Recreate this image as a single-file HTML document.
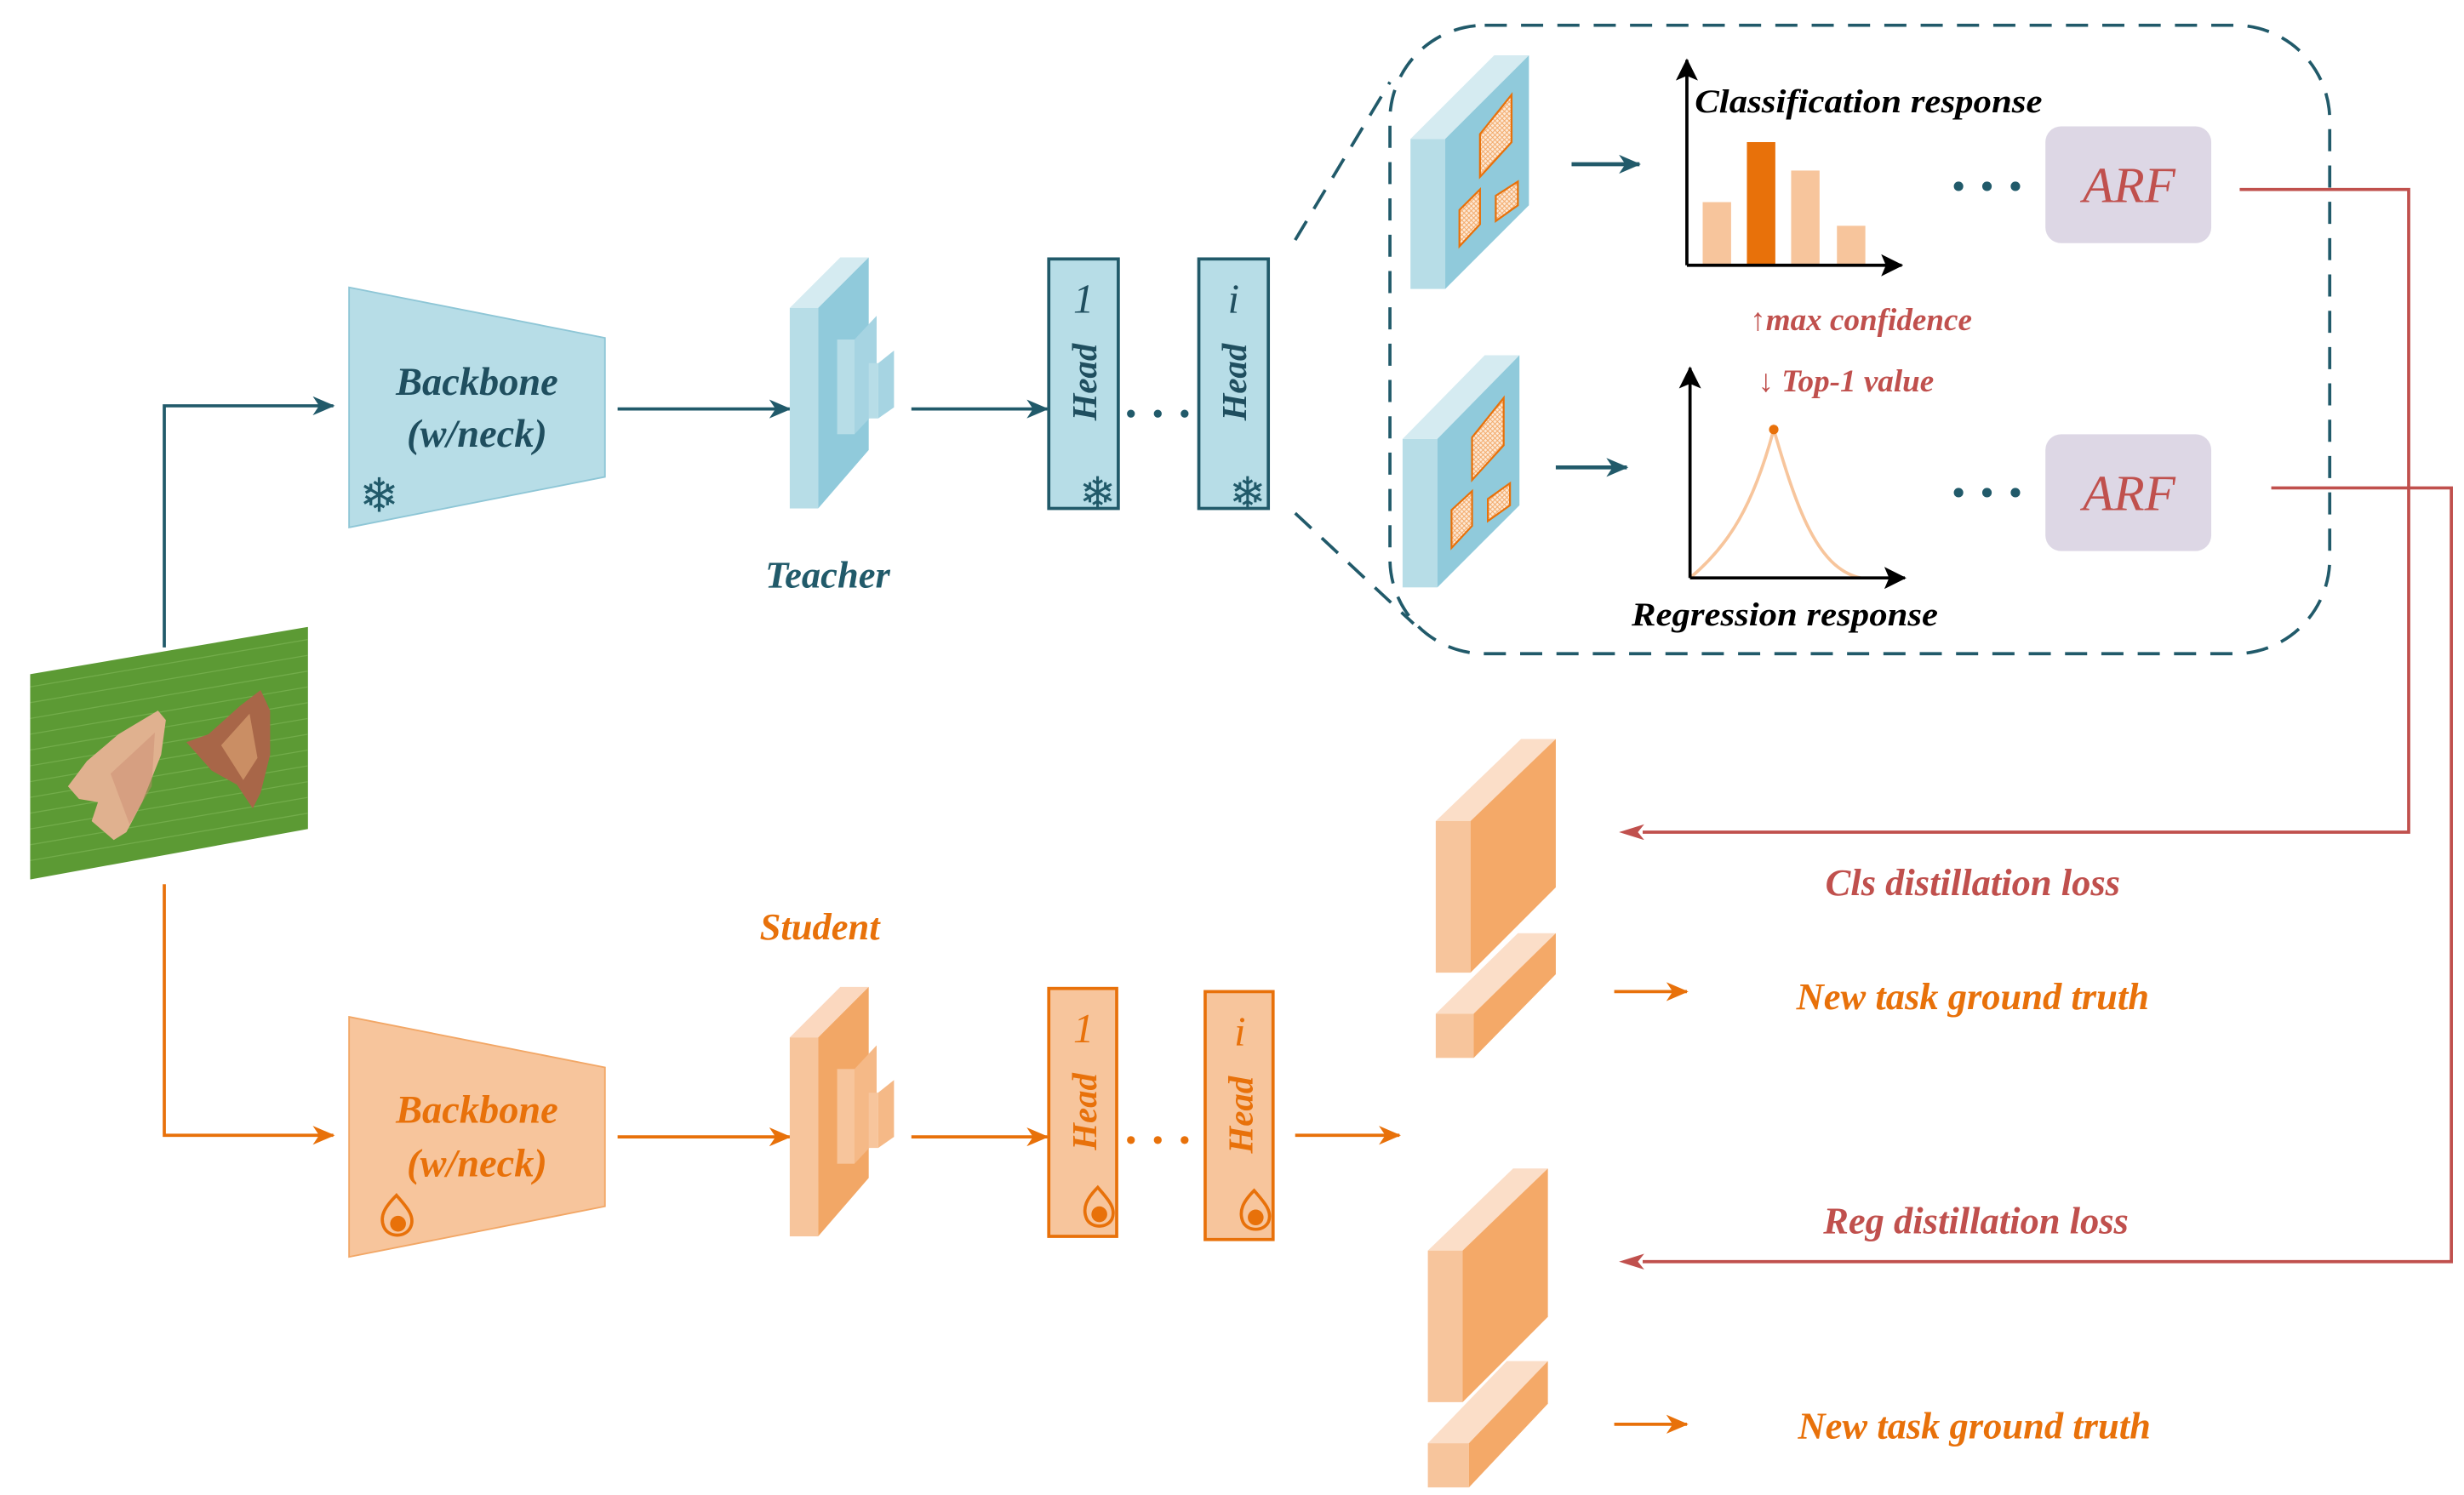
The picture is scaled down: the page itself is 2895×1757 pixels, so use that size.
<!DOCTYPE html>
<html><head><meta charset="utf-8"><style>
html,body{margin:0;padding:0;background:#fff;width:2895px;height:1757px;overflow:hidden}
svg{display:block}
text{font-family:"Liberation Serif",serif;font-style:italic;font-weight:bold}
text.n{font-weight:normal}
text.s{font-style:normal;font-weight:normal;font-family:"DejaVu Sans",sans-serif}
</style></head><body>
<svg width="2895" height="1757" viewBox="0 0 1560 946.8" xmlns="http://www.w3.org/2000/svg">
<defs>
<marker id="at" markerWidth="14" markerHeight="12" refX="13" refY="6" orient="auto" markerUnits="userSpaceOnUse"><path d="M0,0 L14,6 L0,12 L4,6 Z" fill="#215a6a"/></marker>
<marker id="ao" markerWidth="14" markerHeight="12" refX="13" refY="6" orient="auto" markerUnits="userSpaceOnUse"><path d="M0,0 L14,6 L0,12 L4,6 Z" fill="#e8710a"/></marker>
<marker id="ar" markerWidth="16" markerHeight="10" refX="1" refY="5" orient="auto-start-reverse" markerUnits="userSpaceOnUse"><path d="M0,0 L16,5 L0,10 L4,5 Z" fill="#c0504d"/></marker>
<marker id="ak" markerWidth="14" markerHeight="14" refX="13" refY="7" orient="auto" markerUnits="userSpaceOnUse"><path d="M0,0 L14,7 L0,14 L3,7 Z" fill="#000"/></marker>
<pattern id="hatch" width="3" height="3" patternUnits="userSpaceOnUse"><rect width="3" height="3" fill="#fde9d6"/><path d="M0,0 L3,3 M3,0 L0,3" stroke="#f2a766" stroke-width="0.5"/></pattern>
<clipPath id="imgclip"><polygon points="19,427 195,397 195,525 19,557"/></clipPath>
</defs>

<!-- image -->
<g clip-path="url(#imgclip)">
<rect x="19" y="390" width="180" height="175" fill="#5c9a34"/>
<g stroke="#7cb454" stroke-width="0.7" opacity="0.7">
<path d="M19,435 L195,405 M19,445 L195,415 M19,455 L195,425 M19,465 L195,435 M19,475 L195,445 M19,485 L195,455 M19,495 L195,465 M19,505 L195,475 M19,515 L195,485 M19,525 L195,495 M19,535 L195,505 M19,545 L195,515"/>
</g>
<polygon points="105,456 100,450 75,465 55,482 43,498 50,506 62,508 58,520 72,532 80,527 90,508 102,478" fill="#e0b18f"/>
<polygon points="70,490 98,464 96,498 82,522" fill="#c98a70" opacity="0.45"/>
<polygon points="118,470 132,465 152,447 165,437 171,450 171,478 165,502 160,512 150,497 134,488" fill="#a86648"/>
<polygon points="140,472 158,452 163,480 154,494" fill="#d8a070" opacity="0.7"/>
</g>

<!-- teacher path -->
<path d="M104,410 V257 H211" fill="none" stroke="#215a6a" stroke-width="2" marker-end="url(#at)"/>
<polygon points="221,182 383,214 383,302 221,334" fill="#b7dde7" stroke="#8ec6d6" stroke-width="1"/>
<text x="302" y="250" font-size="25" fill="#1f4e5f" text-anchor="middle">Backbone</text>
<text x="302" y="283" font-size="25" fill="#1f4e5f" text-anchor="middle">(w/neck)</text>
<text class="s" x="240" y="324" font-size="30" fill="#215a6a" text-anchor="middle">❄</text>
<line x1="391" y1="259" x2="500" y2="259" stroke="#215a6a" stroke-width="2" marker-end="url(#at)"/>
<!-- teacher neck -->
<polygon points="500,195 518,195 550,163 532,163" fill="#d5ebf1"/>
<rect x="500" y="195" width="18" height="127" fill="#b7dde7"/>
<polygon points="518,195 550,163 550,285 518,322" fill="#90cadb"/>
<rect x="530" y="215" width="11" height="60" fill="#b7dde7"/>
<polygon points="541,215 555,200 555,260 541,275" fill="#a6d4e2"/>
<rect x="550" y="230" width="6" height="35" fill="#b7dde7"/>
<polygon points="556,230 566,222 566,258 556,265" fill="#a6d4e2"/>
<line x1="577" y1="259" x2="663" y2="259" stroke="#215a6a" stroke-width="2" marker-end="url(#at)"/>
<!-- teacher heads -->
<rect x="664" y="164" width="44" height="158" fill="#b7dde7" stroke="#215a6a" stroke-width="2"/>
<text class="n" x="686" y="198" font-size="26" fill="#1f4e5f" text-anchor="middle">1</text>
<text transform="translate(694,242) rotate(-90)" font-size="22" fill="#1f4e5f" text-anchor="middle">Head</text>
<text class="s" x="695" y="322" font-size="28" fill="#215a6a" text-anchor="middle">❄</text>
<circle cx="716" cy="262" r="2.5" fill="#215a6a"/><circle cx="733" cy="262" r="2.5" fill="#215a6a"/><circle cx="750" cy="262" r="2.5" fill="#215a6a"/>
<rect x="759" y="164" width="44" height="158" fill="#b7dde7" stroke="#215a6a" stroke-width="2"/>
<text class="n" x="781" y="198" font-size="26" fill="#1f4e5f" text-anchor="middle">i</text>
<text transform="translate(789,242) rotate(-90)" font-size="22" fill="#1f4e5f" text-anchor="middle">Head</text>
<text class="s" x="790" y="322" font-size="28" fill="#215a6a" text-anchor="middle">❄</text>
<text x="524" y="372" font-size="24" fill="#215a6a" text-anchor="middle">Teacher</text>

<!-- dashed zoom box -->
<rect x="880" y="16" width="595" height="398" rx="60" fill="none" stroke="#215a6a" stroke-width="2" stroke-dasharray="14,9"/>
<line x1="820" y1="152" x2="880" y2="52" stroke="#215a6a" stroke-width="2" stroke-dasharray="14,9"/>
<line x1="820" y1="325" x2="895" y2="395" stroke="#215a6a" stroke-width="2" stroke-dasharray="14,9"/>

<!-- feature map 1 -->
<polygon points="893,88 915,88 968,35 946,35" fill="#d5ebf1"/>
<rect x="893" y="88" width="22" height="95" fill="#b7dde7"/>
<polygon points="915,88 968,35 968,130 915,183" fill="#90cadb"/>
<polygon points="937,85 957,60 957,90 937,112" fill="url(#hatch)" stroke="#e8710a" stroke-width="1.2"/>
<polygon points="924,133 937,120 937,142 924,156" fill="url(#hatch)" stroke="#e8710a" stroke-width="1.2"/>
<polygon points="947,124 961,115 961,130 947,140" fill="url(#hatch)" stroke="#e8710a" stroke-width="1.2"/>
<line x1="995" y1="104" x2="1038" y2="104" stroke="#215a6a" stroke-width="2.5" marker-end="url(#at)"/>
<!-- bar chart -->
<rect x="1078" y="128" width="18" height="40" fill="#f7c59c"/>
<rect x="1106" y="90" width="18" height="78" fill="#e8710a"/>
<rect x="1134" y="108" width="18" height="60" fill="#f7c59c"/>
<rect x="1163" y="143" width="18" height="25" fill="#f7c59c"/>
<line x1="1068" y1="168" x2="1068" y2="38" stroke="#000" stroke-width="2" marker-end="url(#ak)"/>
<line x1="1068" y1="168" x2="1204" y2="168" stroke="#000" stroke-width="2" marker-end="url(#ak)"/>
<text x="1073" y="71" font-size="21" fill="#000" textLength="220" lengthAdjust="spacingAndGlyphs">Classification response</text>
<circle cx="1240" cy="118" r="3" fill="#215a6a"/><circle cx="1258" cy="118" r="3" fill="#215a6a"/><circle cx="1276" cy="118" r="3" fill="#215a6a"/>
<rect x="1295" y="80" width="105" height="74" rx="10" fill="#ddd7e5"/>
<text class="n" x="1348" y="128" font-size="32" fill="#c0504d" text-anchor="middle">ARF</text>
<text x="1108" y="209" font-size="20" fill="#c0504d">↑max confidence</text>
<text x="1113" y="248" font-size="20" fill="#c0504d">↓ Top-1 value</text>

<!-- feature map 2 -->
<polygon points="888,278 910,278 962,225 940,225" fill="#d5ebf1"/>
<rect x="888" y="278" width="22" height="94" fill="#b7dde7"/>
<polygon points="910,278 962,225 962,320 910,372" fill="#90cadb"/>
<polygon points="932,277 952,252 952,282 932,304" fill="url(#hatch)" stroke="#e8710a" stroke-width="1.2"/>
<polygon points="919,323 932,311 932,333 919,347" fill="url(#hatch)" stroke="#e8710a" stroke-width="1.2"/>
<polygon points="942,316 956,306 956,320 942,330" fill="url(#hatch)" stroke="#e8710a" stroke-width="1.2"/>
<line x1="985" y1="296" x2="1030" y2="296" stroke="#215a6a" stroke-width="2.5" marker-end="url(#at)"/>
<path d="M1070,366 C1095,345 1110,320 1123,272 C1137,320 1150,360 1178,366" fill="none" stroke="#f7c59c" stroke-width="2"/>
<circle cx="1123" cy="272" r="3" fill="#e8710a"/>
<line x1="1070" y1="366" x2="1070" y2="233" stroke="#000" stroke-width="2" marker-end="url(#ak)"/>
<line x1="1070" y1="366" x2="1206" y2="366" stroke="#000" stroke-width="2" marker-end="url(#ak)"/>
<text x="1130" y="396" font-size="21" fill="#000" text-anchor="middle" textLength="194" lengthAdjust="spacingAndGlyphs">Regression response</text>
<circle cx="1240" cy="312" r="3" fill="#215a6a"/><circle cx="1258" cy="312" r="3" fill="#215a6a"/><circle cx="1276" cy="312" r="3" fill="#215a6a"/>
<rect x="1295" y="275" width="105" height="74" rx="10" fill="#ddd7e5"/>
<text class="n" x="1348" y="323" font-size="32" fill="#c0504d" text-anchor="middle">ARF</text>

<!-- red connectors -->
<path d="M1418,120 H1525 V527 H1040" fill="none" stroke="#c0504d" stroke-width="2" marker-end="url(#ar)"/>
<path d="M1438,309 H1552 V799 H1040" fill="none" stroke="#c0504d" stroke-width="2" marker-end="url(#ar)"/>

<!-- student path -->
<path d="M104,560 V719 H211" fill="none" stroke="#e8710a" stroke-width="2" marker-end="url(#ao)"/>
<polygon points="221,644 383,676 383,764 221,796" fill="#f7c59c" stroke="#f2a766" stroke-width="1"/>
<text x="302" y="711" font-size="25" fill="#e8710a" text-anchor="middle">Backbone</text>
<text x="302" y="745" font-size="25" fill="#e8710a" text-anchor="middle">(w/neck)</text>
<path d="M251,757 C244,764 240,770 243,777 C246,784 257,784 260,777 C263,770 257,764 251,757 Z" fill="#f7c59c" stroke="#e8710a" stroke-width="2"/>
<circle cx="252" cy="775" r="5" fill="#e8710a"/>
<line x1="391" y1="720" x2="500" y2="720" stroke="#e8710a" stroke-width="2" marker-end="url(#ao)"/>
<polygon points="500,657 518,657 550,625 532,625" fill="#fbd8bf"/>
<rect x="500" y="657" width="18" height="126" fill="#f7c59c"/>
<polygon points="518,657 550,625 550,746 518,783" fill="#f2a766"/>
<rect x="530" y="677" width="11" height="60" fill="#f7c59c"/>
<polygon points="541,677 555,662 555,722 541,737" fill="#f5b987"/>
<rect x="550" y="692" width="6" height="35" fill="#f7c59c"/>
<polygon points="556,692 566,684 566,720 556,727" fill="#f5b987"/>
<line x1="577" y1="720" x2="663" y2="720" stroke="#e8710a" stroke-width="2" marker-end="url(#ao)"/>
<rect x="664" y="626" width="43" height="157" fill="#f7c59c" stroke="#e8710a" stroke-width="2"/>
<text class="n" x="686" y="660" font-size="26" fill="#e8710a" text-anchor="middle">1</text>
<text transform="translate(694,704) rotate(-90)" font-size="22" fill="#e8710a" text-anchor="middle">Head</text>
<path d="M695,752 C688,759 685,765 688,772 C691,778 701,778 704,772 C707,765 701,759 695,752 Z" fill="#f7c59c" stroke="#e8710a" stroke-width="2"/><circle cx="696" cy="769" r="5" fill="#e8710a"/>
<circle cx="716" cy="722" r="2.5" fill="#e8710a"/><circle cx="733" cy="722" r="2.5" fill="#e8710a"/><circle cx="750" cy="722" r="2.5" fill="#e8710a"/>
<rect x="763" y="628" width="43" height="157" fill="#f7c59c" stroke="#e8710a" stroke-width="2"/>
<text class="n" x="785" y="662" font-size="26" fill="#e8710a" text-anchor="middle">i</text>
<text transform="translate(793,706) rotate(-90)" font-size="22" fill="#e8710a" text-anchor="middle">Head</text>
<path d="M794,754 C787,761 784,767 787,774 C790,780 800,780 803,774 C806,767 800,761 794,754 Z" fill="#f7c59c" stroke="#e8710a" stroke-width="2"/><circle cx="795" cy="771" r="5" fill="#e8710a"/>
<line x1="820" y1="719" x2="886" y2="719" stroke="#e8710a" stroke-width="2" marker-end="url(#ao)"/>
<text x="519" y="595" font-size="24" fill="#e8710a" text-anchor="middle">Student</text>

<!-- student output blocks 1 -->
<polygon points="909,520 931,520 985,468 963,468" fill="#fbdec8"/>
<rect x="909" y="520" width="22" height="96" fill="#f7c59c"/>
<polygon points="931,520 985,468 985,562 931,616" fill="#f4a968"/>
<polygon points="909,642 933,642 985,591 961,591" fill="#fbdec8"/>
<rect x="909" y="642" width="24" height="28" fill="#f7c59c"/>
<polygon points="933,642 985,591 985,617 933,670" fill="#f4a968"/>
<!-- blocks 2 -->
<polygon points="904,792 926,792 980,740 958,740" fill="#fbdec8"/>
<rect x="904" y="792" width="22" height="96" fill="#f7c59c"/>
<polygon points="926,792 980,740 980,834 926,888" fill="#f4a968"/>
<polygon points="904,914 930,914 980,862 954,862" fill="#fbdec8"/>
<rect x="904" y="914" width="26" height="28" fill="#f7c59c"/>
<polygon points="930,914 980,862 980,889 930,942" fill="#f4a968"/>

<text x="1249" y="567" font-size="24" fill="#c0504d" text-anchor="middle">Cls distillation loss</text>
<line x1="1022" y1="628" x2="1068" y2="628" stroke="#e8710a" stroke-width="2" marker-end="url(#ao)"/>
<text x="1249" y="639" font-size="24" fill="#e8710a" text-anchor="middle">New task ground truth</text>
<text x="1251" y="781" font-size="24" fill="#c0504d" text-anchor="middle">Reg distillation loss</text>
<line x1="1022" y1="902" x2="1068" y2="902" stroke="#e8710a" stroke-width="2" marker-end="url(#ao)"/>
<text x="1250" y="911" font-size="24" fill="#e8710a" text-anchor="middle">New task ground truth</text>
</svg>
</body></html>
